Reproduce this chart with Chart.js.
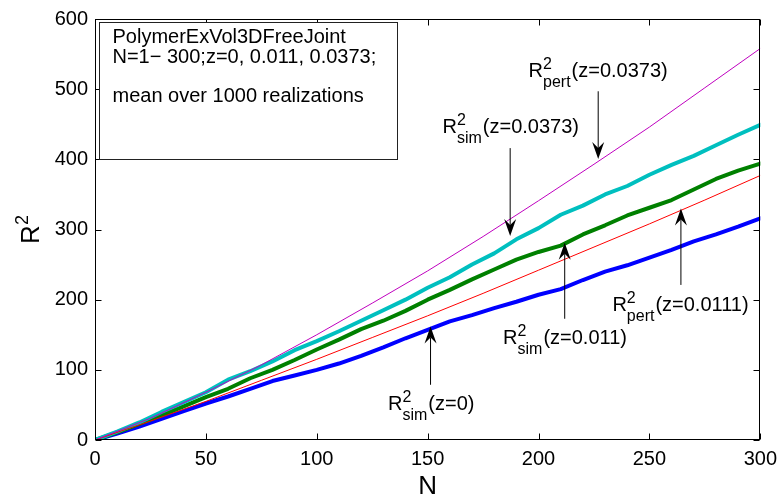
<!DOCTYPE html>
<html>
<head>
<meta charset="utf-8">
<script src="https://cdn.jsdelivr.net/npm/chart.js@4/dist/chart.umd.min.js"></script>
<style>
  html, body { margin: 0; padding: 0; background: #fff; }
</style>
</head>
<body>
<canvas id="r2Chart" width="784" height="503"></canvas>
<script>
// 链长 N 与末端距平方 R^2

const simN = [0, 10, 20, 30, 40, 50, 60, 70, 80, 90, 100, 110, 120, 130, 140, 150,
  160, 170, 180, 190, 200, 210, 220, 230, 240, 250, 260, 270, 280, 290, 300];
// 模拟结果 (1000 次平均)
const simZ0 = [0, 9, 19, 30, 41, 52, 62, 73, 84, 92, 100, 109, 120, 132, 145, 157,
  169, 178, 188, 197, 207, 215, 228, 240, 249, 260, 271, 283, 293, 304, 316];
const simZ011 = [0, 11, 23, 35, 48, 61, 73, 88, 100, 114, 129, 143, 158, 170, 184, 200,
  214, 229, 243, 257, 268, 277, 293, 306, 320, 331, 342, 357, 372, 384, 394];
const simZ0373 = [0, 12, 25, 40, 54, 68, 86, 98, 112, 128, 141, 155, 170, 185, 200, 217,
  232, 250, 266, 286, 302, 321, 334, 350, 362, 378, 392, 405, 420, 435, 449];

// 微扰理论
const pertN = [0, 25, 50, 75, 100, 125, 150, 175, 200, 225, 250, 275, 300];
const pertZ0111 = [0, 27, 55, 85, 115, 146, 177, 209, 242, 275, 308, 342, 377];
const pertZ0373 = [0, 31, 68, 107, 150, 195, 241, 290, 341, 393, 446, 502, 558];

const infoLines = ['PolymerExVol3DFreeJoint', 'N=1\u2212 300;z=0, 0.011, 0.0373;', '', 'mean over 1000 realizations'];

// 标注: 文字位置与箭头 (数据坐标)
const notes = [
  { sub: 'pert', rest: '(z=0.0373)', at: [195.5, 517.5], from: [226.9, 497], to: [226.9, 400.5] },
  { sub: 'sim', rest: '(z=0.0373)', at: [156.7, 437.9], from: [187.2, 416], to: [187.2, 290.9] },
  { sub: 'sim', rest: '(z=0.011)', at: [184.0, 136.7], from: [211.8, 172.8], to: [211.8, 281] },
  { sub: 'pert', rest: '(z=0.0111)', at: [233.3, 183.7], from: [264.2, 221], to: [264.2, 330] },
  { sub: 'sim', rest: '(z=0)', at: [132.1, 42.2], from: [151.3, 78.7], to: [151.3, 161.6] }
];

const FONT = '"Liberation Sans", Arial, Helvetica, sans-serif';

function toPoints(xs, ys) {
  return xs.map((x, i) => ({ x: x, y: ys[i] }));
}

function line(ctx, x1, y1, x2, y2) {
  ctx.beginPath();
  ctx.moveTo(x1, y1);
  ctx.lineTo(x2, y2);
  ctx.stroke();
}

// R^2_sub(...) 形式的标签
function drawRLabel(ctx, x, base, sub, rest) {
  ctx.textBaseline = 'alphabetic';
  ctx.textAlign = 'left';
  ctx.font = '20px ' + FONT;
  ctx.fillText('R', x, base);
  let cx = x + ctx.measureText('R').width;
  ctx.font = '16px ' + FONT;
  ctx.fillText('2', cx, base - 8);
  ctx.fillText(sub, cx, base + 10);
  cx += Math.max(ctx.measureText('2').width, ctx.measureText(sub).width) + 1;
  ctx.font = '20px ' + FONT;
  ctx.fillText(rest, cx, base);
}

// 带凹尾的箭头
function drawArrow(ctx, x1, y1, x2, y2) {
  const ang = Math.atan2(y2 - y1, x2 - x1);
  const len = 17, half = 6, notch = 11;
  const bx = x2 - Math.cos(ang) * notch, by = y2 - Math.sin(ang) * notch;
  ctx.lineWidth = 1;
  line(ctx, x1, y1, bx, by);
  const ex = x2 - Math.cos(ang) * len, ey = y2 - Math.sin(ang) * len;
  const nx = -Math.sin(ang) * half, ny = Math.cos(ang) * half;
  ctx.beginPath();
  ctx.moveTo(x2, y2);
  ctx.lineTo(ex + nx, ey + ny);
  ctx.lineTo(bx, by);
  ctx.lineTo(ex - nx, ey - ny);
  ctx.closePath();
  ctx.fill();
}

const framePlugin = {
  id: 'framePlugin',
  afterDraw(chart) {
    const { ctx, chartArea: a, scales: { x, y } } = chart;
    const L = Math.round(a.left) + 0.5, R = Math.round(a.right) - 0.5;
    const T = Math.round(a.top) + 0.5, B = Math.round(a.bottom) - 0.5;
    ctx.save();
    ctx.strokeStyle = '#000';
    ctx.fillStyle = '#000';
    ctx.lineWidth = 1;
    ctx.strokeRect(L, T, R - L, B - T);

    // 四边朝内的刻度
    x.ticks.forEach(t => {
      const px = Math.round(x.getPixelForValue(t.value)) + 0.5;
      line(ctx, px, B, px, B - 6);
      line(ctx, px, T, px, T + 6);
    });
    y.ticks.forEach(t => {
      const py = Math.round(y.getPixelForValue(t.value)) + 0.5;
      line(ctx, L, py, L + 6, py);
      line(ctx, R, py, R - 6, py);
    });

    // 纵轴标题 R^2
    const midY = (a.top + a.bottom) / 2;
    ctx.save();
    ctx.font = '26px ' + FONT;
    const wR = ctx.measureText('R').width;
    ctx.font = '18px ' + FONT;
    const w2 = ctx.measureText('2').width;
    ctx.translate(39, midY + (wR + w2) / 2);
    ctx.rotate(-Math.PI / 2);
    ctx.textBaseline = 'alphabetic';
    ctx.font = '26px ' + FONT;
    ctx.fillText('R', 0, 0);
    ctx.font = '18px ' + FONT;
    ctx.fillText('2', wR, -11);
    ctx.restore();

    // 左上角说明框
    ctx.fillStyle = '#fff';
    ctx.fillRect(L + 4, T + 3, 298, 137);
    ctx.strokeStyle = '#222';
    ctx.strokeRect(L + 4, T + 3, 298, 137);
    ctx.fillStyle = '#000';
    ctx.font = '20px ' + FONT;
    ctx.textBaseline = 'alphabetic';
    ctx.textAlign = 'left';
    const lineY = [43, 63, 82, 102];
    infoLines.forEach((s, i) => ctx.fillText(s, L + 17, lineY[i]));

    // 曲线标注
    ctx.strokeStyle = '#000';
    notes.forEach(n => {
      drawRLabel(ctx, x.getPixelForValue(n.at[0]), y.getPixelForValue(n.at[1]), n.sub, n.rest);
      drawArrow(ctx,
        x.getPixelForValue(n.from[0]), y.getPixelForValue(n.from[1]),
        x.getPixelForValue(n.to[0]), y.getPixelForValue(n.to[1]));
    });
    ctx.restore();
  }
};

function thin(data, color) {
  return { data: data, borderColor: color, borderWidth: 1, pointRadius: 0, tension: 0 };
}

function thick(data, color) {
  return {
    data: data, borderColor: color, borderWidth: 4, pointRadius: 0, tension: 0,
    borderJoinStyle: 'round', borderCapStyle: 'round'
  };
}

function renderChart() {
  const ctx = document.getElementById('r2Chart');
  new Chart(ctx, {
    type: 'line',
    data: {
      // 理论线画在最上层
      datasets: [
        thin(toPoints(pertN, pertZ0373), '#bf00bf'),
        thin(toPoints(pertN, pertZ0111), '#ff0000'),
        thick(toPoints(simN, simZ0373), '#00bfbf'),
        thick(toPoints(simN, simZ011), '#008000'),
        thick(toPoints(simN, simZ0), '#0000ff')
      ]
    },
    options: {
      responsive: false,
      animation: false,
      devicePixelRatio: 1,
      layout: { padding: { left: 12, right: 19, top: 13, bottom: 0 } },
      plugins: {
        legend: { display: false },
        tooltip: { enabled: false }
      },
      scales: {
        x: {
          type: 'linear',
          min: 0,
          max: 300,
          grid: { display: false, drawTicks: false },
          border: { display: false },
          ticks: { stepSize: 50, padding: 7, color: '#000', font: { family: FONT, size: 20 }, maxRotation: 0 },
          title: { display: true, text: 'N', color: '#000', font: { family: FONT, size: 26 }, padding: { top: 0, bottom: 1 } },
          afterFit: scale => { scale.height = 63; }
        },
        y: {
          min: 0,
          max: 600,
          grid: { display: false, drawTicks: false },
          border: { display: false },
          ticks: { stepSize: 100, padding: 7, color: '#000', font: { family: FONT, size: 20 } },
          afterFit: scale => { scale.width = 83; }
        }
      }
    },
    plugins: [framePlugin]
  });
}

document.addEventListener('DOMContentLoaded', renderChart);
</script>
</body>
</html>
